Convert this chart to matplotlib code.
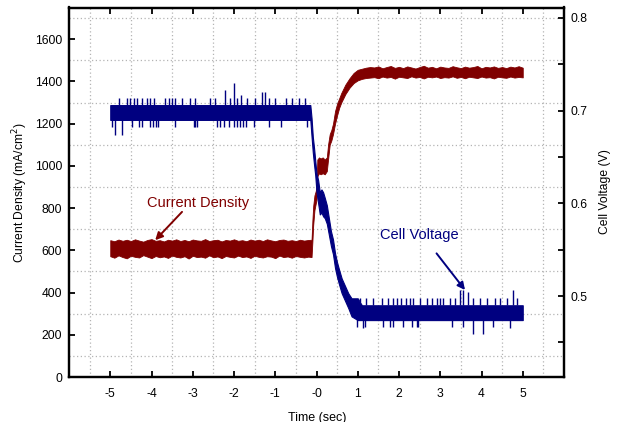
import numpy as np
import matplotlib
matplotlib.use("Agg")
import matplotlib.pyplot as plt

# ---------------- data ----------------
# Current density (left axis, mA/cm^2): noisy band given as lower / upper envelope
red_t = [-5.0, -4.9, -4.8, -4.7, -4.6, -4.5, -4.4, -4.3, -4.2, -4.1, -4.0, -3.9, -3.8,
         -3.7, -3.6, -3.5, -3.4, -3.3, -3.2, -3.1, -3.0, -2.9, -2.8, -2.7, -2.6, -2.5,
         -2.4, -2.3, -2.2, -2.1, -2.0, -1.9, -1.8, -1.7, -1.6, -1.5, -1.4, -1.3, -1.2,
         -1.1, -1.0, -0.9, -0.8, -0.7, -0.6, -0.5, -0.4, -0.3, -0.2,
         -0.12, -0.10, -0.08, -0.05, -0.02, 0.00, 0.02, 0.06, 0.10, 0.15, 0.20, 0.25,
         0.28, 0.32, 0.36, 0.40, 0.45, 0.50, 0.55, 0.60, 0.65, 0.70, 0.80, 0.90, 1.00,
         1.10, 1.20, 1.30,
         1.4, 1.5, 1.6, 1.7, 1.8, 1.9, 2.0, 2.1, 2.2, 2.3, 2.4, 2.5, 2.6, 2.7, 2.8, 2.9,
         3.0, 3.1, 3.2, 3.3, 3.4, 3.5, 3.6, 3.7, 3.8, 3.9, 4.0, 4.1, 4.2, 4.3, 4.4, 4.5,
         4.6, 4.7, 4.8, 4.9, 5.0]
red_hi = [648, 643, 651, 645, 650, 644, 652, 646, 641, 649, 653, 645, 648, 642, 650, 646,
          652, 644, 649, 643, 651, 647, 645, 653, 644, 648, 650, 642, 649, 646, 652, 645,
          648, 643, 651, 646, 650, 644, 652, 647, 643, 649, 651, 645, 648, 644, 650, 646,
          649,
          650, 740, 810, 860, 880, 900, 1030, 1040, 1035, 1040, 1030, 1040,
          1100, 1150, 1170, 1200, 1260, 1295, 1320, 1345, 1365, 1385, 1415, 1440, 1455,
          1460, 1465, 1468,
          1466, 1471, 1462, 1468, 1473, 1464, 1469, 1463, 1471, 1466, 1461, 1468, 1474,
          1465, 1469, 1462, 1470, 1466, 1464, 1472, 1467, 1463, 1470, 1465, 1468, 1473,
          1462, 1469, 1466, 1471, 1464, 1468, 1463, 1470, 1466, 1472, 1465]
red_lo = [572, 565, 576, 568, 562, 574, 569, 566, 577, 570, 563, 573, 567, 571, 564, 575,
          569, 566, 572, 561, 574, 568, 570, 565, 576, 567, 571, 563, 573, 569, 566, 575,
          568, 571, 564, 574, 569, 566, 572, 570, 563, 575, 568, 571, 565, 573, 569, 566,
          570,
          568, 640, 720, 790, 820, 840, 950, 965, 960, 965, 960, 975,
          1030, 1100, 1120, 1150, 1200, 1240, 1275, 1300, 1320, 1340, 1370, 1392, 1405,
          1412, 1416, 1418,
          1420, 1415, 1423, 1418, 1421, 1413, 1422, 1419, 1416, 1424, 1418, 1421, 1414,
          1422, 1419, 1423, 1416, 1420, 1418, 1424, 1417, 1421, 1415, 1422, 1419, 1416,
          1423, 1418, 1420, 1414, 1422, 1419, 1417, 1423, 1418, 1421, 1419]

# Cell voltage (right axis, V): quantised band envelope
blue_t = [-5.0, -0.15, -0.12, -0.09, -0.06, -0.03, 0.00, 0.04, 0.08, 0.12, 0.16, 0.20,
          0.25, 0.30, 0.35, 0.40, 0.45, 0.50, 0.55, 0.61, 0.69, 0.77, 0.85, 1.00, 1.10, 5.0]
blue_lo = [0.690, 0.690, 0.672, 0.655, 0.642, 0.630, 0.612, 0.600, 0.588, 0.590, 0.586,
           0.584, 0.578, 0.566, 0.554, 0.545, 0.530, 0.520, 0.512, 0.503, 0.495, 0.487,
           0.478, 0.474, 0.474, 0.474]
blue_hi = [0.706, 0.706, 0.692, 0.672, 0.660, 0.646, 0.632, 0.625, 0.612, 0.615, 0.612,
           0.606, 0.598, 0.584, 0.570, 0.561, 0.546, 0.536, 0.528, 0.519, 0.511, 0.503,
           0.4975, 0.4975, 0.490, 0.490]

# voltage spikes above the band
blue_up_t = [-4.80, -4.59, -4.51, -4.43, -4.35, -4.23, -4.11, -4.03, -3.95, -3.67, -3.58,
             -3.50, -3.42, -3.26, -3.06, -2.94, -2.57, -2.45, -2.21, -2.09, -2.01, -1.92,
             -1.84, -1.68, -1.48, -1.32, -1.24, -1.16, -1.00, -0.75, -0.59, -0.43, -0.27,
             1.05, 1.21, 1.37, 1.58, 1.74, 1.86, 1.94, 2.06, 2.18, 2.26, 2.34, 2.51, 2.67,
             2.79, 2.91, 2.99, 3.07, 3.24, 3.36, 3.48, 3.56, 3.68, 3.80, 3.96, 4.13, 4.33,
             4.45, 4.61, 4.77, 4.85]
blue_up_v = [0.7133, 0.7133, 0.7133, 0.7133, 0.7133, 0.7133, 0.7133, 0.7133, 0.7133,
             0.7133, 0.7133, 0.7133, 0.7133, 0.7133, 0.7133, 0.7133, 0.7133, 0.7133,
             0.7223, 0.7133, 0.7295, 0.7133, 0.7164, 0.7133, 0.7133, 0.7205, 0.7205,
             0.7133, 0.7133, 0.7133, 0.7133, 0.7133, 0.7133,
             0.4975, 0.4975, 0.4975, 0.4975, 0.4975, 0.4975, 0.4975, 0.4975, 0.4975,
             0.4975, 0.4975, 0.4975, 0.4975, 0.4975, 0.4975, 0.4975, 0.4975, 0.4975,
             0.4975, 0.5065, 0.5065, 0.5046, 0.4975, 0.4975, 0.4975, 0.4975, 0.4975,
             0.4975, 0.5065, 0.4975]
# voltage spikes below the band
blue_dn_t = [-4.96, -4.88, -4.72, -4.47, -4.31, -4.23, -4.03, -3.97, -3.90, -3.84, -3.42,
             -2.98, -2.94, -2.90, -2.41, -2.33, -2.25, -2.13, -2.01, -1.93, -1.85, -1.77,
             -1.70, -1.52, -1.16, -0.87, -0.23,
             0.97, 1.13, 1.17, 1.62, 1.78, 1.86, 2.10, 2.31, 2.43, 2.47, 3.28, 3.56, 3.80,
             4.04, 4.29, 4.69]
blue_dn_v = [0.6827, 0.6737, 0.6737, 0.6827, 0.6827, 0.6827, 0.6827, 0.6827, 0.6827,
             0.6827, 0.6827, 0.6827, 0.6827, 0.6827, 0.6827, 0.6827, 0.6827, 0.6827,
             0.6827, 0.6827, 0.6827, 0.6827, 0.6827, 0.6827, 0.6827, 0.6827, 0.6827,
             0.4669, 0.4650, 0.4669, 0.4669, 0.4669, 0.4669, 0.4669, 0.4669, 0.4669,
             0.4669, 0.4669, 0.4669, 0.4587, 0.4587, 0.4669, 0.4658]

x_major = [-5, -4, -3, -2, -1, 0, 1, 2, 3, 4, 5]
x_labels = ["-5", "-4", "-3", "-2", "-1", "-0", "1", "2", "3", "4", "5"]
y_left_major = [0, 200, 400, 600, 800, 1000, 1200, 1400, 1600]
y_right_major = [0.5, 0.6, 0.7, 0.8]
y_right_labels = ["0.5", "0.6", "0.7", "0.8"]

RED = "#800000"
BLUE = "#000080"
GRID = "#b4b4b4"

plt.rcParams["font.family"] = ["Liberation Sans", "DejaVu Sans"]

W, H = 617, 422
fig = plt.figure(figsize=(W / 100, H / 100), dpi=100)
ax = fig.add_axes([69 / W, 1 - 377 / H, (564 - 69) / W, (377 - 7.5) / H])
ax2 = ax.twinx()

ax.set_xlim(-6, 6)
ax.set_ylim(0, 1750)
ax2.set_ylim(0.4126, 0.8113)

# grid on half positions
ax.set_xticks(x_major)
ax.set_xticklabels(x_labels)
ax.set_xticks(np.arange(-5.5, 6.0, 1.0), minor=True)
ax.set_yticks(y_left_major)
ax.set_yticks(np.arange(100, 1800, 200), minor=True)
ax.grid(True, which="minor", linestyle=(0, (1, 2)), color=GRID, linewidth=0.9)
ax.grid(False, which="major")
ax.set_axisbelow(True)

ax.tick_params(axis="both", which="major", direction="in", length=4, width=1.3,
               labelsize=8.7, colors="black")
ax.tick_params(axis="x", which="major", top=True, pad=8)
ax.tick_params(axis="y", which="major", pad=5)
ax.tick_params(axis="both", which="minor", length=0)

ax2.set_yticks(y_right_major)
ax2.set_yticklabels(y_right_labels)
ax2.set_yticks([0.45, 0.55, 0.65, 0.75], minor=True)
ax2.tick_params(axis="y", which="both", direction="in", length=4, width=1.3,
                labelsize=8.7, pad=4.5)

for a in (ax, ax2):
    for s in a.spines.values():
        s.set_linewidth(1.6)
        s.set_color("black")

# current density
ax.fill_between(red_t, red_lo, red_hi, color=RED, linewidth=0.6, edgecolor=RED, zorder=2)

# cell voltage
ax2.fill_between(blue_t, blue_lo, blue_hi, color=BLUE, linewidth=0.8, edgecolor=BLUE,
                 zorder=3)
up_base = np.interp(blue_up_t, blue_t, blue_hi)
dn_base = np.interp(blue_dn_t, blue_t, blue_lo)
ax2.vlines(blue_up_t, up_base, blue_up_v, color=BLUE, linewidth=1.0, zorder=3)
ax2.vlines(blue_dn_t, blue_dn_v, dn_base, color=BLUE, linewidth=1.0, zorder=3)

# annotations
ax.text(-2.86, 823, "Current Density", color=RED, fontsize=10.5, ha="center",
        va="center")
ax.annotate("", xy=(-3.91, 648), xytext=(-3.26, 782),
            arrowprops=dict(arrowstyle="-|>", color=RED, lw=1.4, mutation_scale=11,
                            shrinkA=0, shrinkB=0))
ax2.text(2.483, 0.5653, "Cell Voltage", color=BLUE, fontsize=10.5, ha="center",
         va="center")
ax2.annotate("", xy=(3.60, 0.5065), xytext=(2.91, 0.546),
             arrowprops=dict(arrowstyle="-|>", color=BLUE, lw=1.4, mutation_scale=11,
                             shrinkA=0, shrinkB=0))

# axis titles
fig.text(20 / W, 1 - 193 / H, "Current Density (mA/cm$^2$)", rotation=90,
         ha="center", va="center", fontsize=8.7)
fig.text(605 / W, 1 - 191.5 / H, "Cell Voltage (V)", rotation=90,
         ha="center", va="center", fontsize=8.7)
fig.text(317 / W, 1 - 420.5 / H, "Time (sec)", ha="center", va="baseline", fontsize=9)

fig.savefig("out.png", dpi=100)
